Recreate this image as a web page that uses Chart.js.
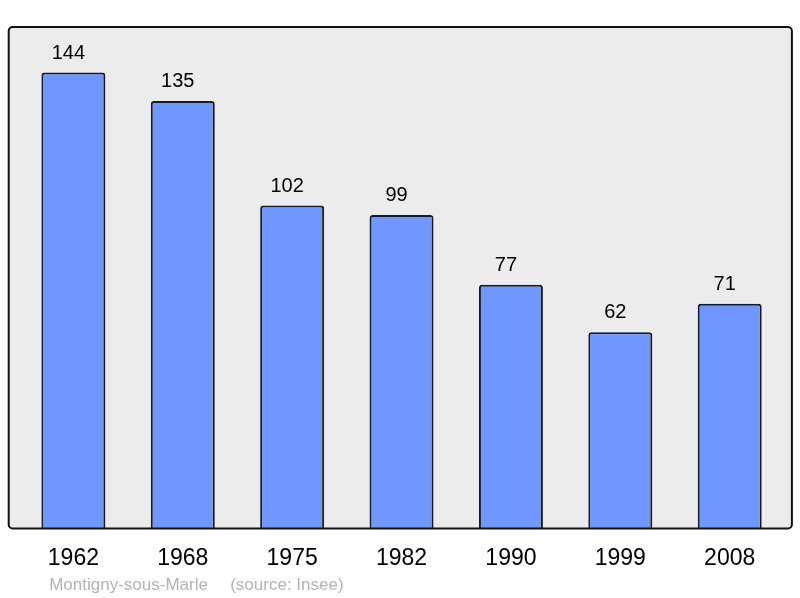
<!DOCTYPE html>
<html>
<head>
<meta charset="utf-8">
<script src="https://cdn.jsdelivr.net/npm/chart.js@4/dist/chart.umd.min.js"></script>
<style>
html,body{margin:0;padding:0;background:#fff;}
#wrap{width:800px;height:598px;}
</style>
</head>
<body>
<div id="wrap"><canvas id="c" width="800" height="598"></canvas></div>
<script>
const years = ["1962","1968","1975","1982","1990","1999","2008"];
const population = [144,135,102,99,77,62,71];
const sourceName = "Montigny-sous-Marle";
const sourceNote = "(source: Insee)";

const FONT = "'Liberation Sans', Arial, sans-serif";

const framePlugin = {
  id: 'frame',
  beforeDatasetsDraw(chart) {
    const {ctx, chartArea: a} = chart;
    ctx.save();
    ctx.beginPath();
    ctx.roundRect(a.left - 10, a.top, (a.right + 7.5) - (a.left - 10), a.bottom - a.top, 4);
    ctx.fillStyle = '#ececec';
    ctx.fill();
    ctx.restore();
  },
  afterDatasetsDraw(chart) {
    const {ctx, chartArea: a} = chart;
    ctx.save();
    ctx.beginPath();
    ctx.roundRect(a.left - 10, a.top, (a.right + 7.5) - (a.left - 10), a.bottom - a.top, 4);
    ctx.lineWidth = 2;
    ctx.strokeStyle = '#111';
    ctx.stroke();
    // value labels
    const meta = chart.getDatasetMeta(0);
    ctx.fillStyle = '#000';
    ctx.font = '20px ' + FONT;
    ctx.textAlign = 'center';
    ctx.textBaseline = 'alphabetic';
    meta.data.forEach((bar, i) => {
      ctx.fillText(String(chart.data.datasets[0].data[i]), bar.x - 5, bar.y - 14);
    });
    // source line
    ctx.fillStyle = '#b3b3b3';
    ctx.font = '17px ' + FONT;
    ctx.textAlign = 'left';
    ctx.fillText(sourceName, a.left + 30.5, a.bottom + 62);
    ctx.fillText(sourceNote, a.left + 211.5, a.bottom + 62);
    ctx.restore();
  }
};

new Chart(document.getElementById('c'), {
  type: 'bar',
  data: {
    labels: years,
    datasets: [{
      data: population,
      backgroundColor: '#7097ff',
      borderColor: '#1a1a1a',
      borderWidth: 2,
      borderRadius: 3,
      borderSkipped: 'bottom',
      categoryPercentage: 1,
      barPercentage: 0.585
    }]
  },
  options: {
    responsive: false,
    devicePixelRatio: 1,
    animation: false,
    layout: { padding: { left: 18.7, right: 15.6, top: 27, bottom: 9.6 } },
    plugins: { legend: { display: false }, tooltip: { enabled: false } },
    scales: {
      x: {
        grid: { display: false, drawTicks: false },
        border: { display: false },
        ticks: { color: '#000', font: { family: FONT, size: 23 }, padding: 16.2, maxRotation: 0 }
      },
      y: {
        display: false,
        min: 0,
        max: 158.4
      }
    }
  },
  plugins: [framePlugin]
});
</script>
</body>
</html>
